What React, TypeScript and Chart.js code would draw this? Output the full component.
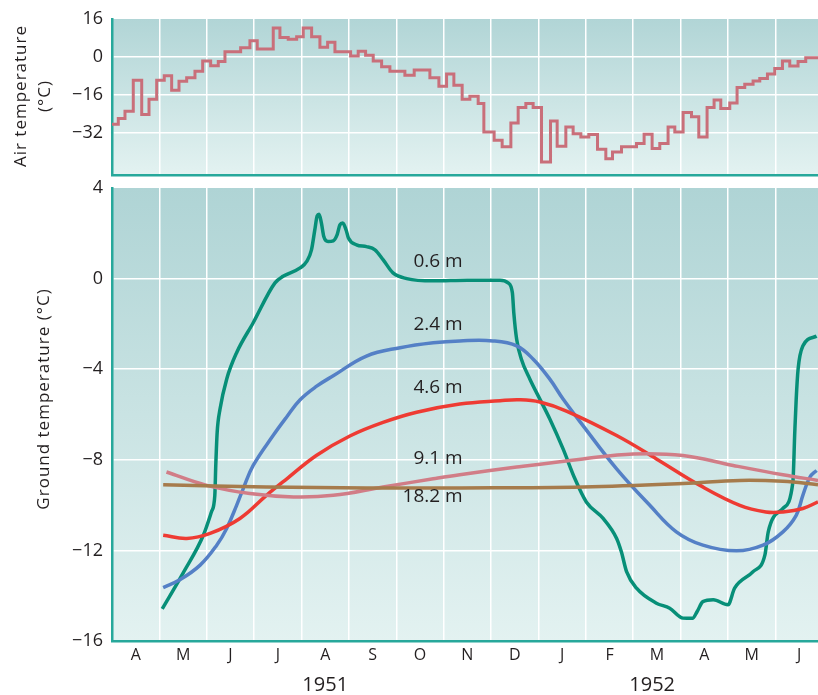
import React, { useEffect, useRef } from 'react';
import { Chart, registerables } from 'chart.js';

Chart.register(...registerables);

const FONT = '"Open Sans", "DejaVu Sans", Arial, sans-serif';
const INK = '#231f20';
const AXIS = '#27a89b';
const GRID = '#ffffff';

// ---- categories / ticks ----
const months = ['A', 'M', 'J', 'J', 'A', 'S', 'O', 'N', 'D', 'J', 'F', 'M', 'A', 'M', 'J'];
const years = ['1951', '1952'];
const yearCenters = [4.5, 11.4]; // in months after 1 Apr 1951
const xEnd = 14.9;

const airTicks = [16, 0, -16, -32];
const airMin = -50;
const airMax = 16;
const groundTicks = [4, 0, -4, -8, -12, -16];
const groundMin = -16;
const groundMax = 4;

// ---- air temperature (5-day steps) : [month offset, °C] ----
const airTemp = [
  [0, -28.5], [0.133, -26.1], [0.274, -23.0], [0.449, -9.9], [0.627, -24.4], [0.781, -18.0],
  [0.943, -9.9], [1.103, -8.0], [1.259, -14.1], [1.414, -10.3], [1.576, -8.9], [1.751, -6.1],
  [1.914, -1.8], [2.082, -3.8], [2.243, -2.0], [2.384, 2.1], [2.715, 3.8], [2.911, 6.8],
  [3.065, 3.3], [3.403, 12.2], [3.544, 8.2], [3.719, 7.4], [3.897, 8.5], [4.036, 12.2],
  [4.213, 8.5], [4.388, 4.0], [4.551, 6.2], [4.705, 2.1], [5.036, 0.3], [5.196, 2.4],
  [5.352, 0.7], [5.513, -1.8], [5.69, -4.2], [5.865, -6.1], [6.181, -7.8], [6.378, -5.6],
  [6.709, -8.9], [6.899, -12.4], [7.061, -7.3], [7.215, -12.0], [7.39, -18.0], [7.553, -16.7],
  [7.728, -19.7], [7.848, -31.8], [8.065, -35.3], [8.234, -38.1], [8.418, -28.0], [8.572, -21.4],
  [8.734, -19.7], [8.888, -21.4], [9.065, -44.5], [9.255, -27.2], [9.395, -37.8], [9.578, -29.7],
  [9.732, -32.5], [9.895, -33.9], [10.063, -32.9], [10.247, -39.1], [10.422, -43.1], [10.563, -40.3],
  [10.753, -38.1], [11.07, -36.7], [11.23, -32.8], [11.399, -38.8], [11.561, -36.7], [11.736, -29.7],
  [11.878, -31.8], [12.053, -23.6], [12.23, -25.4], [12.384, -33.9], [12.559, -21.4], [12.707, -18.3],
  [12.848, -21.9], [13.038, -19.5], [13.192, -13.0], [13.354, -11.6], [13.53, -10.2], [13.671, -9.2],
  [13.833, -7.3], [13.987, -4.9], [14.15, -1.8], [14.304, -3.9], [14.479, -2.0], [14.641, -0.4],
  [14.9, -0.4],
];

// ---- ground temperature by depth : [month offset, °C] ----
const ground06 = [
  [1.06, -14.58], [1.5, -13.0], [1.93, -11.32], [2.1, -10.29], [2.17, -9.57], [2.19, -8.25],
  [2.22, -6.78], [2.28, -5.76], [2.42, -4.44], [2.63, -3.27], [2.98, -1.95], [3.44, -0.19],
  [3.61, 0.1], [3.97, 0.47], [4.11, 0.76], [4.21, 1.27], [4.28, 2.15], [4.33, 2.77],
  [4.37, 2.84], [4.42, 2.45], [4.47, 1.86], [4.56, 1.64], [4.67, 1.67], [4.75, 1.93],
  [4.81, 2.37], [4.87, 2.45], [4.94, 2.15], [4.99, 1.79], [5.16, 1.49], [5.37, 1.41],
  [5.55, 1.27], [5.72, 0.84], [5.93, 0.25], [6.22, 0.0], [6.78, -0.1], [7.5, -0.07],
  [8.19, -0.07], [8.36, -0.19], [8.45, -0.63], [8.48, -1.51], [8.54, -2.68], [8.64, -3.56],
  [8.82, -4.44], [9.03, -5.32], [9.24, -6.2], [9.52, -7.52], [9.77, -8.84], [10.01, -9.86],
  [10.37, -10.6], [10.65, -11.47], [10.75, -12.06], [10.86, -12.94], [11.07, -13.67], [11.49, -14.33],
  [11.77, -14.55], [12.05, -14.99], [12.25, -15.0], [12.35, -14.7], [12.47, -14.26], [12.69, -14.18],
  [13.0, -14.4], [13.14, -13.67], [13.53, -12.94], [13.78, -12.2], [13.85, -11.18], [14.16, -10.15],
  [14.37, -8.98], [14.41, -6.78], [14.44, -5.32], [14.48, -4.0], [14.58, -2.98], [14.87, -2.54],
];
const ground24 = [
  [1.08, -13.64], [1.43, -13.3], [1.86, -12.65], [2.21, -11.77], [2.42, -11.03], [2.63, -10.01],
  [2.77, -9.27], [2.98, -8.25], [3.4, -6.93], [3.69, -6.1], [3.97, -5.35], [4.32, -4.75],
  [4.67, -4.29], [5.37, -3.42], [6.08, -3.05], [6.78, -2.83], [7.34, -2.75], [8.04, -2.75],
  [8.54, -2.97], [8.89, -3.56], [9.24, -4.44], [9.52, -5.32], [9.94, -6.49], [10.65, -8.4],
  [11.35, -10.01], [11.91, -11.18], [12.47, -11.77], [13.18, -12.02], [13.74, -11.77], [14.16, -11.18],
  [14.44, -10.45], [14.58, -9.57], [14.73, -8.76], [14.87, -8.47],
];
const ground46 = [
  [1.08, -11.33], [1.58, -11.47], [2.07, -11.25], [2.7, -10.59], [3.26, -9.57], [3.69, -8.84],
  [4.32, -7.8], [5.02, -6.95], [5.72, -6.35], [6.43, -5.9], [7.34, -5.54], [8.19, -5.39],
  [8.6, -5.35], [9.03, -5.45], [9.59, -5.85], [10.65, -6.93], [11.49, -7.96], [12.41, -9.13],
  [13.25, -10.01], [13.8, -10.3], [14.16, -10.3], [14.58, -10.15], [14.9, -9.86],
];
const ground91 = [
  [1.15, -8.54], [2.0, -9.13], [2.91, -9.49], [3.83, -9.64], [4.67, -9.57], [5.72, -9.2],
  [6.78, -8.84], [7.34, -8.66], [8.54, -8.32], [9.94, -7.96], [11.0, -7.74], [12.05, -7.81],
  [13.11, -8.25], [14.16, -8.66], [14.9, -8.91],
];
const ground182 = [
  [1.08, -9.1], [3.26, -9.2], [5.37, -9.24], [7.34, -9.24], [9.94, -9.2], [12.05, -9.05],
  [13.25, -8.91], [14.16, -8.95], [14.9, -9.1],
];

const depthNames = ['0.6 m', '2.4 m', '4.6 m', '9.1 m', '18.2 m'];
const depthLabelAnchors = [[7.4, 0.75], [7.4, -2.05], [7.4, -4.8], [7.4, -7.96], [7.4, -9.64]];

// ---- styles ----
const depthColors = ['#078f78', '#5480c6', '#ee3b33', '#d17d87', '#a67b4c'];
const airColor = '#c96f7a';

const fmt = (v: number) => (v < 0 ? '\u2212' + Math.abs(v) : String(v));
const toPts = (arr: number[][]) => arr.map(([x, y]) => ({ x, y }));
const boundaries = months.slice(1).map((_, i) => i + 1);
const transparent = 'rgba(0,0,0,0)';

function bgPlugin(top: string, bottom: string) {
  return {
    id: 'bgGrad',
    beforeDraw(chart: any) {
      const { ctx, chartArea: a } = chart;
      const g = ctx.createLinearGradient(0, a.top, 0, a.bottom);
      g.addColorStop(0, top);
      g.addColorStop(1, bottom);
      ctx.save();
      ctx.fillStyle = g;
      ctx.fillRect(a.left, a.top, a.right - a.left, a.bottom - a.top);
      ctx.restore();
    },
  };
}

function drawRotated(ctx: any, text: string, x: number, y: number, size: number) {
  ctx.save();
  ctx.font = `${size}px ${FONT}`;
  if ('letterSpacing' in ctx) ctx.letterSpacing = '1px';
  ctx.fillStyle = INK;
  ctx.translate(x, y);
  ctx.rotate(-Math.PI / 2);
  ctx.textAlign = 'center';
  ctx.textBaseline = 'middle';
  ctx.fillText(text, 0, 0);
  ctx.restore();
}

function xScaleGrid() {
  return {
    type: 'linear',
    min: 0,
    max: xEnd,
    afterBuildTicks: (s: any) => {
      s.ticks = boundaries.map((v) => ({ value: v }));
    },
    ticks: { display: false },
    grid: { color: GRID, lineWidth: 1.5, drawTicks: false },
    border: { color: AXIS, width: 2.5 },
    afterFit: (s: any) => {
      s.height = 0;
      s.paddingLeft = 0;
      s.paddingRight = 0;
    },
  };
}

function yScale(min: number, max: number, ticks: number[]) {
  return {
    type: 'linear',
    min,
    max,
    afterBuildTicks: (s: any) => {
      s.ticks = ticks.map((v) => ({ value: v }));
    },
    ticks: {
      color: INK,
      font: { family: FONT, size: 18 },
      padding: 9,
      callback: (v: any) => fmt(Number(v)),
    },
    grid: {
      color: (c: any) => (c.tick && (c.tick.value === max || c.tick.value === min) ? transparent : GRID),
      lineWidth: 1.5,
      drawTicks: false,
    },
    border: { color: AXIS, width: 2.5 },
    afterFit: (s: any) => {
      s.width = 112;
      s.paddingTop = 0;
      s.paddingBottom = 0;
    },
  };
}

export default function App() {
  const topRef = useRef<HTMLCanvasElement | null>(null);
  const botRef = useRef<HTMLCanvasElement | null>(null);

  useEffect(() => {
    const top = new Chart(topRef.current as HTMLCanvasElement, {
      type: 'line',
      data: {
        datasets: [
          {
            data: toPts(airTemp),
            stepped: true,
            borderColor: airColor,
            borderWidth: 3,
            pointRadius: 0,
            fill: false,
          } as any,
        ],
      },
      options: {
        responsive: false,
        animation: false,
        events: [],
        layout: { padding: { top: 19, bottom: 5, left: 0, right: 0 } },
        scales: {
          x: xScaleGrid() as any,
          y: yScale(airMin, airMax, airTicks) as any,
        },
        plugins: { legend: { display: false }, tooltip: { enabled: false } },
      },
      plugins: [
        bgPlugin('#b1d5d6', '#e3f2f1'),
        {
          id: 'airTitle',
          afterDraw(chart: any) {
            const { ctx } = chart;
            drawRotated(ctx, 'Air temperature', 21, 96, 17);
            drawRotated(ctx, '(°C)', 45, 96, 17);
          },
        },
      ],
    });

    const bottom = new Chart(botRef.current as HTMLCanvasElement, {
      type: 'line',
      data: {
        datasets: [ground182, ground91, ground46, ground24, ground06].map((arr, i) => {
          const ci = 4 - i;
          return {
            label: depthNames[ci],
            data: toPts(arr),
            borderColor: depthColors[ci],
            borderWidth: 3.5,
            pointRadius: 0,
            fill: false,
            cubicInterpolationMode: ci === 0 ? 'monotone' : 'default',
            tension: 0.4,
          } as any;
        }),
      },
      options: {
        responsive: false,
        animation: false,
        events: [],
        layout: { padding: { top: 8, bottom: 0, left: 0, right: 0 } },
        scales: {
          x: xScaleGrid() as any,
          xm: {
            type: 'linear',
            position: 'bottom',
            min: 0,
            max: xEnd,
            afterBuildTicks: (s: any) => {
              s.ticks = months.map((_, i) => ({ value: i + 0.5 }));
            },
            ticks: {
              autoSkip: false,
              maxRotation: 0,
              color: INK,
              font: { family: FONT, size: 16 },
              padding: 5,
              callback: (_v: any, i: number) => months[i],
            },
            grid: { display: false, drawTicks: false },
            border: { display: false },
            afterFit: (s: any) => {
              s.height = 54;
              s.paddingLeft = 0;
              s.paddingRight = 0;
            },
          } as any,
          y: yScale(groundMin, groundMax, groundTicks) as any,
        },
        plugins: { legend: { display: false }, tooltip: { enabled: false } },
      },
      plugins: [
        bgPlugin('#afd4d5', '#e3f2f1'),
        {
          id: 'groundTexts',
          afterDraw(chart: any) {
            const { ctx, chartArea } = chart;
            const xs = chart.scales.x;
            const ys = chart.scales.y;
            drawRotated(ctx, 'Ground temperature (°C)', 44, 219, 17);
            ctx.save();
            ctx.fillStyle = INK;
            ctx.font = `19px ${FONT}`;
            ctx.textAlign = 'right';
            ctx.textBaseline = 'middle';
            depthNames.forEach((n, i) => {
              const [lx, ly] = depthLabelAnchors[i];
              ctx.fillText(n, xs.getPixelForValue(lx), ys.getPixelForValue(ly));
            });
            ctx.textAlign = 'center';
            ctx.font = `20px ${FONT}`;
            years.forEach((y, i) => {
              ctx.fillText(y, xs.getPixelForValue(yearCenters[i]), chartArea.bottom + 44);
            });
            ctx.restore();
          },
        },
      ],
    });

    return () => {
      top.destroy();
      bottom.destroy();
    };
  }, []);

  return (
    <div style={{ position: 'absolute', left: 0, top: 0, width: 818, height: 695, background: '#fff' }}>
      <canvas ref={topRef} width={818} height={180} style={{ position: 'absolute', left: 0, top: 0, display: 'block' }} />
      <canvas ref={botRef} width={818} height={515} style={{ position: 'absolute', left: 0, top: 180, display: 'block' }} />
    </div>
  );
}
